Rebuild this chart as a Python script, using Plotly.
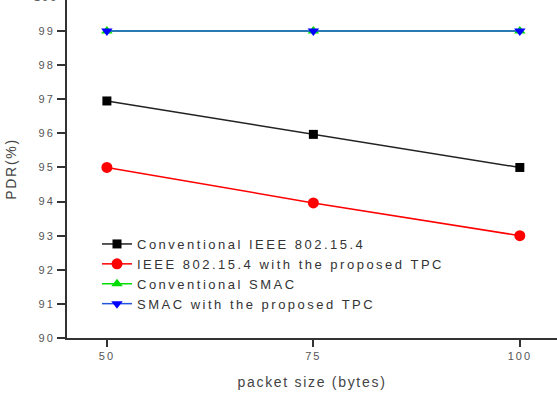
import plotly.graph_objects as go

# ---- data ----
packet_size = [50, 75, 100]
ieee_conv = [96.95, 95.97, 95.0]
ieee_tpc = [95.0, 93.96, 93.0]
smac_conv = [99.0, 99.0, 99.0]
smac_tpc = [99.0, 99.0, 99.0]

series_names = [
    "Conventional IEEE 802.15.4",
    "IEEE 802.15.4 with the proposed TPC",
    "Conventional SMAC",
    "SMAC with the proposed TPC",
]
x_tick_vals = [50, 75, 100]
x_tick_text = ["50", "75", "100"]
y_tick_vals = [90, 91, 92, 93, 94, 95, 96, 97, 98, 99]
y_tick_text = ["90", "91", "92", "93", "94", "95", "96", "97", "98", "99"]
y_top_label = "100"

FONT = "Liberation Sans, Arial, sans-serif"

fig = go.Figure()
styles = [
    (ieee_conv, "#000000", "#222222", "square", 9),
    (ieee_tpc, "#ff0000", "#ff0000", "circle", 11),
    (smac_conv, "#00dd00", "#00dd00", "triangle-up", 10),
    (smac_tpc, "#0000ff", "#2255dd", "triangle-down", 10),
]
for (vals, mcol, lcol, sym, sz), name in zip(styles, series_names):
    fig.add_trace(go.Scatter(
        x=packet_size, y=vals, name=name, mode="lines+markers",
        line=dict(color=lcol, width=1.5),
        marker=dict(symbol=sym, size=sz, color=mcol, line=dict(width=0)),
        cliponaxis=False,
    ))

axis_col = "#333333"
fig.update_layout(
    width=557, height=393,
    margin=dict(l=67, r=0, t=0, b=55),
    paper_bgcolor="white", plot_bgcolor="white",
    font=dict(family=FONT, color="#444444"),
    showlegend=True,
    legend=dict(
        x=(97 - 67) / 490, y=(338 - 229) / 338, xanchor="left", yanchor="top",
        bgcolor="rgba(0,0,0,0)", borderwidth=0,
        font=dict(family=FONT, size=13, color="#333333"),
        tracegroupgap=0,
    ),
    xaxis=dict(
        range=[45.17, 104.5], tickvals=x_tick_vals, ticktext=x_tick_text,
        showgrid=False, zeroline=False, showline=True, linecolor=axis_col,
        linewidth=2, ticks="outside", ticklen=7, tickwidth=1.5, tickcolor=axis_col,
        tickfont=dict(size=11, color="#555555"),
        title=dict(text="packet size (bytes)", font=dict(size=14, color="#444444"), standoff=16),
    ),
    yaxis=dict(
        range=[90, 99.91], tickvals=y_tick_vals, ticktext=y_tick_text,
        showgrid=False, zeroline=False, showline=True, linecolor=axis_col,
        linewidth=2, ticks="outside", ticklen=8, tickwidth=1.5, tickcolor=axis_col,
        tickfont=dict(size=11, color="#555555"),
        title=dict(text="PDR(%)", font=dict(size=14, color="#444444"), standoff=23),
    ),
)
fig.add_annotation(
    x=0, xref="paper", y=1 + 3 / 338, yref="paper", text=y_top_label, showarrow=False,
    xanchor="right", yanchor="middle", xshift=-10,
    font=dict(family=FONT, size=11, color="#555555"),
)

post = """
var s=document.createElement('style');
s.innerHTML='.legendtext{letter-spacing:2.5px}.xtick text,.ytick text,.annotation-text{letter-spacing:2px}.g-xtitle text,.g-ytitle text{letter-spacing:1.7px}.legend, .legend *{clip-path:none !important}';
document.head.appendChild(s);
"""
fig.write_html("out.html", post_script=post)
